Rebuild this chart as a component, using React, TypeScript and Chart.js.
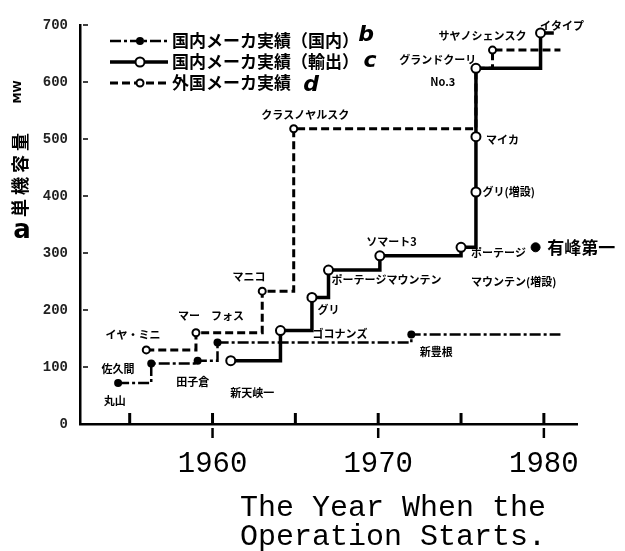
import { useEffect, useRef } from "react";
import { Chart, registerables } from "chart.js";

Chart.register(...registerables);

// ---- data ----
const domYears = [1954.3, 1956.3, 1959.1, 1960.3, 1972.0, 1981.0];
const domValues = [72, 106, 111, 143, 157, 157];

const expYears = [1961.1, 1964.1, 1966.0, 1967.0, 1970.1, 1975.0, 1975.9, 1975.9, 1975.9, 1979.8, 1980.6];
const expValues = [111, 164, 222, 270, 295, 310, 407, 504, 624, 686, 686];

const forYears = [1956.0, 1959.0, 1963.0, 1964.9, 1975.9, 1976.9, 1981.0];
const forValues = [130, 160, 233, 518, 624, 656, 656];

const extraYears = [1979.5];
const extraValues = [310];

const xTickYears = [1955, 1960, 1965, 1970, 1975, 1980];
const xLabelYears = [1960, 1970, 1980];
const yTickValues = [0, 100, 200, 300, 400, 500, 600, 700];

const legendLabels = ["国内メーカ実績（国内）", "国内メーカ実績（輸出）", "外国メーカ実績"];
const legendMarks = ["b", "c", "d"];
const yTitle = "単機容量";
const yUnit = "MW";
const yMark = "a";
const xTitleLines = ["The Year When the", "Operation Starts."];

// annotation texts anchored in data units
const pointLabels = [
  { text: "丸山", x: 1954.1, y: 40, align: "center" },
  { text: "佐久間", x: 1954.3, y: 96, align: "center" },
  { text: "田子倉", x: 1958.8, y: 74, align: "center" },
  { text: "新天峡一", x: 1962.4, y: 54, align: "center" },
  { text: "イヤ・ミニ", x: 1955.2, y: 156, align: "center" },
  { text: "マー　フォス", x: 1959.9, y: 189, align: "center" },
  { text: "マニコ", x: 1962.2, y: 258, align: "center" },
  { text: "クラスノヤルスク", x: 1965.6, y: 542, align: "center" },
  { text: "グリ", x: 1967.0, y: 200, align: "center" },
  { text: "ゴコナンズ", x: 1967.7, y: 158, align: "center" },
  { text: "ポーテージマウンテン", x: 1970.5, y: 253, align: "center" },
  { text: "ソマート3", x: 1970.8, y: 319, align: "center" },
  { text: "ポーテージ", x: 1975.6, y: 300, align: "left" },
  { text: "マウンテン(増設)", x: 1975.6, y: 249, align: "left" },
  { text: "グリ(増設)", x: 1976.3, y: 407, align: "left" },
  { text: "マイカ", x: 1976.5, y: 498, align: "left" },
  { text: "グランドクーリ", x: 1973.6, y: 639, align: "center" },
  { text: "No.3", x: 1973.9, y: 600, align: "center" },
  { text: "サヤノシェンスク", x: 1976.3, y: 681, align: "center" },
  { text: "イタイプ", x: 1981.1, y: 698, align: "center" },
  { text: "新豊根", x: 1973.5, y: 126, align: "center" },
];
const bigLabels = [{ text: "有峰第一", x: 1980.2, y: 309 }];

const CJK = '"Noto Sans CJK JP", "Noto Sans", sans-serif';
const MONO = '"Liberation Mono", "DejaVu Sans Mono", monospace';

const toPts = (xs: number[], ys: number[]) => xs.map((x, i) => ({ x, y: ys[i] }));

export default function App() {
  const ref = useRef<HTMLCanvasElement | null>(null);

  useEffect(() => {
    document.body.style.margin = "0";
    const canvas = ref.current;
    if (!canvas) return;

    const styles = [
      { color: "#000", width: 2.5, dash: [11, 3, 3, 3], radius: 4, fill: "#000", border: 0 },
      { color: "#000", width: 3.5, dash: [], radius: 4.5, fill: "#fff", border: 2 },
      { color: "#000", width: 3, dash: [8, 4], radius: 3.5, fill: "#fff", border: 2 },
    ];

    const overlay = {
      id: "overlay",
      afterDraw(chart: any) {
        const ctx = chart.ctx;
        const xs = chart.scales.x;
        const ys = chart.scales.y;
        const area = chart.chartArea;
        ctx.save();
        ctx.fillStyle = "#000";
        ctx.strokeStyle = "#000";
        ctx.lineCap = "butt";

        // x tick marks (inside) and decade marks (outside)
        xTickYears.forEach((v) => {
          const px = xs.getPixelForValue(v);
          ctx.lineWidth = 3;
          ctx.beginPath();
          ctx.moveTo(px, area.bottom);
          ctx.lineTo(px, area.bottom - 11);
          ctx.stroke();
          if (xLabelYears.includes(v)) {
            ctx.lineWidth = 2.5;
            ctx.beginPath();
            ctx.moveTo(px, area.bottom + 4);
            ctx.lineTo(px, area.bottom + 14);
            ctx.stroke();
          }
        });
        // y tick marks (inside)
        yTickValues.forEach((v) => {
          if (v === 0) return;
          const py = ys.getPixelForValue(v);
          ctx.lineWidth = 1.5;
          ctx.beginPath();
          ctx.moveTo(area.left + 3, py);
          ctx.lineTo(area.left + 8, py);
          ctx.stroke();
        });

        // annotations
        ctx.textBaseline = "middle";
        ctx.font = `bold 11px ${CJK}`;
        pointLabels.forEach((l) => {
          ctx.textAlign = l.align as CanvasTextAlign;
          ctx.fillText(l.text, xs.getPixelForValue(l.x), ys.getPixelForValue(l.y));
        });
        ctx.font = `bold 17px ${CJK}`;
        ctx.textAlign = "left";
        bigLabels.forEach((l) => {
          ctx.fillText(l.text, xs.getPixelForValue(l.x), ys.getPixelForValue(l.y));
        });

        // legend
        const rows = [41, 62, 83];
        rows.forEach((ry, i) => {
          const st = styles[i];
          ctx.lineWidth = st.width;
          ctx.setLineDash(st.dash);
          ctx.beginPath();
          ctx.moveTo(110, ry);
          ctx.lineTo(168, ry);
          ctx.stroke();
          ctx.setLineDash([]);
          ctx.beginPath();
          ctx.arc(140, ry, st.radius, 0, Math.PI * 2);
          ctx.fillStyle = st.fill;
          ctx.fill();
          if (st.border) {
            ctx.lineWidth = st.border;
            ctx.stroke();
          }
          ctx.fillStyle = "#000";
          ctx.font = `bold 17px ${CJK}`;
          ctx.textAlign = "left";
          ctx.fillText(legendLabels[i], 172, ry);
        });
        ctx.font = `bold italic 22px "DejaVu Sans", sans-serif`;
        ctx.textAlign = "center";
        ctx.fillText(legendMarks[0], 366, 35);
        ctx.fillText(legendMarks[1], 370, 61);
        ctx.fillText(legendMarks[2], 311, 85);

        // y title (rotated)
        ctx.save();
        ctx.translate(20, 173);
        ctx.rotate(-Math.PI / 2);
        ctx.font = `bold 18px ${CJK}`;
        (ctx as any).letterSpacing = "4px";
        ctx.textAlign = "center";
        ctx.fillText(yTitle, 0, 0);
        (ctx as any).letterSpacing = "0px";
        ctx.restore();
        ctx.save();
        ctx.translate(18, 92);
        ctx.rotate(-Math.PI / 2);
        ctx.font = `bold 11px "DejaVu Sans", sans-serif`;
        ctx.textAlign = "center";
        ctx.fillText(yUnit, 0, 0);
        ctx.restore();
        ctx.font = `bold 26px "DejaVu Sans", sans-serif`;
        ctx.textAlign = "center";
        ctx.fillText(yMark, 22, 231);

        // x title
        ctx.font = `30px ${MONO}`;
        ctx.textAlign = "left";
        ctx.fillText(xTitleLines[0], 240, 508);
        ctx.fillText(xTitleLines[1], 240, 537);
        ctx.restore();
      },
    };

    const mk = (i: number) => (c: any) => {
      const n = c.dataset.data.length;
      return c.dataIndex === n - 1 ? 0 : styles[i].radius;
    };

    const chart = new Chart(canvas, {
      type: "line",
      data: {
        datasets: [
          {
            label: legendLabels[1],
            data: toPts(expYears, expValues),
            stepped: true,
            borderColor: styles[1].color,
            borderWidth: styles[1].width,
            pointRadius: mk(1),
            pointBackgroundColor: "#fff",
            pointBorderColor: "#000",
            pointBorderWidth: 2,
            fill: false,
            order: 0,
          },
          {
            label: legendLabels[0],
            data: toPts(domYears, domValues),
            stepped: true,
            borderColor: styles[0].color,
            borderWidth: styles[0].width,
            borderDash: styles[0].dash,
            pointRadius: mk(0),
            pointBackgroundColor: "#000",
            pointBorderColor: "#000",
            pointBorderWidth: 0,
            fill: false,
            order: 1,
          },
          {
            label: legendLabels[2],
            data: toPts(forYears, forValues),
            stepped: true,
            borderColor: styles[2].color,
            borderWidth: styles[2].width,
            borderDash: styles[2].dash,
            pointRadius: (c: any) => {
              const n = c.dataset.data.length;
              return c.dataIndex === n - 1 || c.dataIndex === 4 ? 0 : styles[2].radius;
            },
            pointBackgroundColor: "#fff",
            pointBorderColor: "#000",
            pointBorderWidth: 2,
            fill: false,
            order: 2,
          },
          {
            label: "extra",
            data: toPts(extraYears, extraValues),
            showLine: false,
            pointRadius: 4.5,
            pointBackgroundColor: "#000",
            pointBorderColor: "#000",
            order: 3,
          },
        ],
      },
      options: {
        responsive: false,
        animation: false,
        devicePixelRatio: 1,
        layout: { padding: { top: 25, right: 48, left: 0, bottom: 0 } },
        plugins: { legend: { display: false }, tooltip: { enabled: false } },
        scales: {
          x: {
            type: "linear",
            min: 1952,
            max: 1982,
            grid: { display: false, drawTicks: false },
            border: { display: true, color: "#000", width: 2.5 },
            afterBuildTicks: (s: any) => {
              s.ticks = xTickYears.map((v) => ({ value: v }));
            },
            afterFit: (s: any) => {
              s.height = 127;
            },
            ticks: {
              padding: 23,
              color: "#000",
              font: { family: MONO, size: 29 },
              maxRotation: 0,
              autoSkip: false,
              callback: (v: any) => (xLabelYears.includes(Number(v)) ? String(v) : ""),
            },
          },
          y: {
            type: "linear",
            min: 0,
            max: 700,
            grid: { display: false, drawTicks: false },
            border: { display: true, color: "#000", width: 2.5 },
            afterBuildTicks: (s: any) => {
              s.ticks = yTickValues.map((v) => ({ value: v }));
            },
            afterFit: (s: any) => {
              s.width = 80;
            },
            ticks: {
              padding: 12,
              color: "#222",
              font: { family: MONO, size: 14, weight: "bold" },
              callback: (v: any) => String(v),
            },
          },
        },
      },
      plugins: [overlay],
    } as any);

    return () => chart.destroy();
  }, []);

  return (
    <div style={{ width: 625, height: 551, background: "#fff" }}>
      <canvas ref={ref} width={625} height={551} style={{ display: "block", width: 625, height: 551 }} />
    </div>
  );
}
